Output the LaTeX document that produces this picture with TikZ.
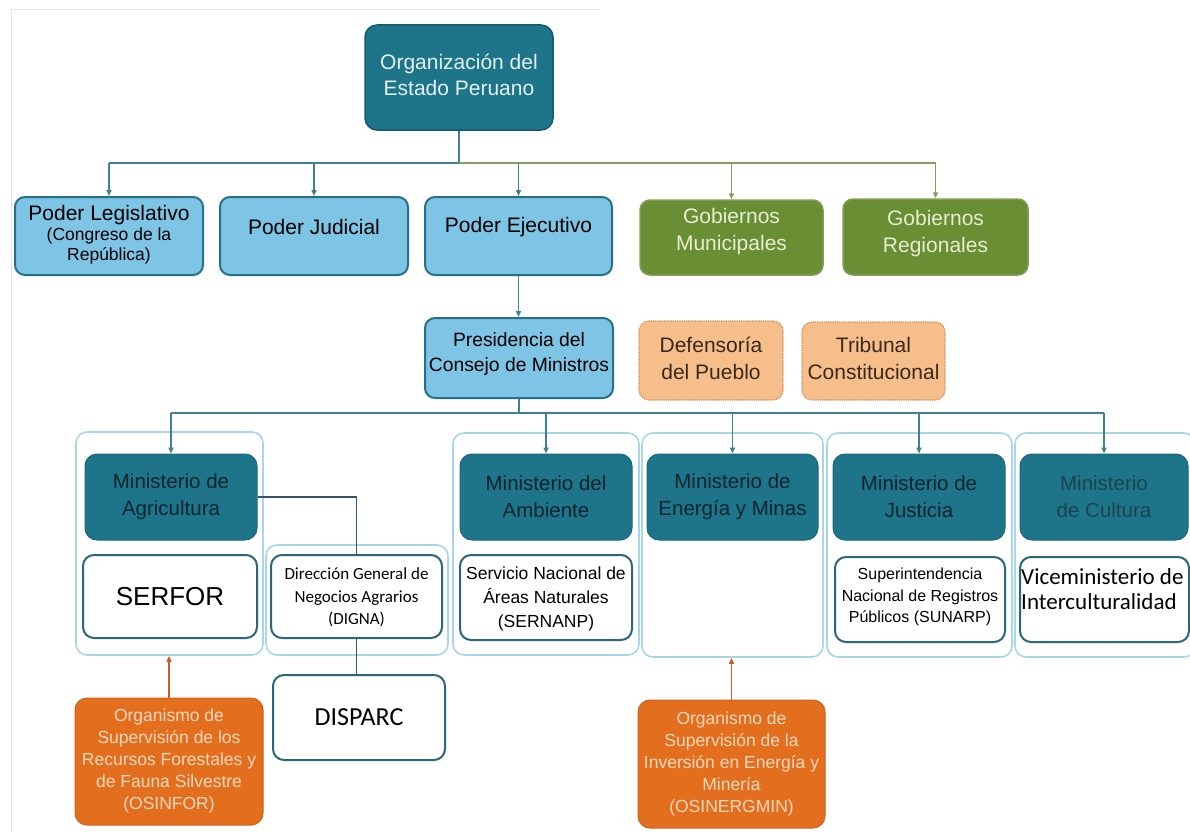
\documentclass[tikz,border=0pt]{standalone}
\usepackage{fontspec}
\setmainfont{Liberation Sans}
\newfontfamily\calfont{Carlito}
\usetikzlibrary{arrows.meta}
\newcommand\myfs[2]{\fontsize{#1}{#2}\selectfont}
\definecolor{tealdark}{HTML}{1E7489}
\definecolor{tealborder}{HTML}{17596A}
\definecolor{toptext}{HTML}{E3F1F2}
\definecolor{lblue}{HTML}{7EC4E4}
\definecolor{lblueb}{HTML}{27708B}
\definecolor{olive}{HTML}{6A8E34}
\definecolor{olivetext}{HTML}{E6EED2}
\definecolor{peach}{HTML}{F5BE8A}
\definecolor{peachb}{HTML}{CC8E55}
\definecolor{peachtext}{HTML}{3A291B}
\definecolor{orangebox}{HTML}{E36E1E}
\definecolor{orangetext}{HTML}{F8D9BE}
\definecolor{contline}{HTML}{A9D5E8}
\definecolor{subborder}{HTML}{2B6777}
\definecolor{mintext}{HTML}{0B2530}
\definecolor{culttext}{HTML}{1A4550}
\definecolor{conteal}{HTML}{3F8190}
\definecolor{congreen}{HTML}{8C9A62}
\definecolor{conorange}{HTML}{C8602A}
\definecolor{condark}{HTML}{34536A}
\definecolor{framegray}{HTML}{E4E4E4}
\begin{document}
\begin{tikzpicture}[x=1pt,y=-1pt,
  sz/.style 2 args={minimum width=#1pt,minimum height=#2pt,inner sep=0pt},
  topbox/.style={draw=tealborder,line width=1.5pt,fill=tealdark,rounded corners=12pt},
  pbox/.style={draw=lblueb,line width=2pt,fill=lblue,rounded corners=10pt},
  gbox/.style={draw=olive!85!white,line width=1.5pt,fill=olive,rounded corners=10pt},
  dbox/.style={draw=peachb,line width=1.2pt,densely dotted,fill=peach,rounded corners=10pt},
  minbox/.style={draw=tealdark!90!black,line width=1pt,fill=tealdark,rounded corners=12pt},
  contbox/.style={draw=contline,line width=1.6pt,fill=white,rounded corners=11pt},
  subbox/.style={draw=subborder,line width=2pt,fill=white,rounded corners=11pt},
  obox/.style={draw=orangebox!90!black,line width=1pt,fill=orangebox,rounded corners=12pt},
  txt/.style={inner sep=0pt,align=center},
  arr/.style={-{Triangle[length=6pt,width=5pt]}},
  cteal/.style={draw=conteal,line width=1.6pt},
  cgreen/.style={draw=congreen,line width=1.6pt},
  corange/.style={draw=conorange,line width=1.8pt},
  cdark/.style={draw=condark,line width=1.3pt}
]
\useasboundingbox (0,0) rectangle (1190,832);
% faint frame of the screenshot
\draw[framegray,line width=1pt] (11,832) -- (11,10) -- (600,10);

% --- top level ---
\node[topbox,sz={188}{105}] (top) at (459,77.5) {};
\node[txt,text=toptext,font=\myfs{21}{26}] (ttop) at (459,74.5) {Organización del\\Estado Peruano};

\node[pbox,sz={188}{78}] (leg) at (109,236) {};
\node[txt,text=black,font=\myfs{17.5}{20}] (tleg) at (109,235) {{\myfs{21}{24}Poder Legislativo}\\(Congreso de la\\República)};
\node[pbox,sz={188}{78}] (jud) at (314,236) {};
\node[txt,text=black,font=\myfs{21}{26}] (tjud) at (314,227) {Poder Judicial};
\node[pbox,sz={187}{78}] (eje) at (518.5,236) {};
\node[txt,text=black,font=\myfs{21}{26}] (teje) at (518.5,227) {Poder Ejecutivo};
\node[gbox,sz={183}{75}] (mun) at (731.5,237.5) {};
\node[txt,text=olivetext,font=\myfs{21}{27}] (tmun) at (731.5,231.5) {Gobiernos\\Municipales};
\node[gbox,sz={185}{76}] (reg) at (935.5,237) {};
\node[txt,text=olivetext,font=\myfs{21}{27}] (treg) at (935.5,233.5) {Gobiernos\\Regionales};

\coordinate (b1) at (459,163);
\draw[cteal] (top.south) -- (b1);
\draw[cgreen] (b1) -- (b1 -| reg.north);
\draw[cteal] (b1) -- (b1 -| leg.north);
\draw[cteal,arr] (b1 -| leg.north) -- (leg.north);
\draw[cteal,arr] (b1 -| jud.north) -- (jud.north);
\draw[cteal,arr] (b1 -| eje.north) -- (eje.north);
\draw[cgreen,arr] (b1 -| mun.north) -- (mun.north);
\draw[cgreen,arr] (b1 -| reg.north) -- (reg.north);

% --- second level ---
\node[pbox,sz={188}{80}] (pcm) at (519,358) {};
\node[txt,text=black,font=\myfs{19.3}{25}] (tpcm) at (519,354.5) {Presidencia del\\Consejo de Ministros};
\node[dbox,sz={144}{79}] (def) at (711,360.5) {};
\node[txt,text=peachtext,font=\myfs{21}{27}] (tdef) at (711,358.5) {Defensoría\\del Pueblo};
\node[dbox,sz={143}{78}] (tri) at (873.5,361) {};
\node[txt,text=peachtext,font=\myfs{21}{27}] (ttri) at (873.5,358.5) {Tribunal\\Constitucional};
\draw[cteal,arr] (eje.south) -- (eje.south |- pcm.north);

% --- containers ---
\node[contbox,sz={187}{223}] (cagr) at (169.5,543.5) {};
\node[contbox,sz={182}{110}] (cdig) at (357,600) {};
\node[contbox,sz={186}{222}] (camb) at (546,544) {};
\node[contbox,sz={181}{224}] (cene) at (732.5,545) {};
\node[contbox,sz={185}{224}] (cjus) at (919.5,545) {};
\node[contbox,sz={180}{224}] (ccul) at (1105,545) {};

% --- ministries ---
\node[minbox,sz={172}{86}] (agr) at (171,497) {};
\node[txt,text=mintext,font=\myfs{20.5}{27}] (tagr) at (171,496.5) {Ministerio de\\Agricultura};
\node[minbox,sz={172}{86}] (amb) at (546,497) {};
\node[txt,text=mintext,font=\myfs{20.5}{27}] (tamb) at (546,497) {Ministerio del\\Ambiente};
\node[minbox,sz={171}{86}] (ene) at (732.5,497) {};
\node[txt,text=mintext,font=\myfs{20.5}{27}] (tene) at (732.5,497) {Ministerio de\\Energía y Minas};
\node[minbox,sz={172}{86}] (jus) at (919,497) {};
\node[txt,text=mintext,font=\myfs{20.5}{27}] (tjus) at (919,497) {Ministerio de\\Justicia};
\node[minbox,sz={168}{86}] (cul) at (1104,497) {};
\node[txt,text=culttext,font=\myfs{20.5}{27}] (tcul) at (1104,497) {Ministerio\\de Cultura};

\coordinate (b2) at (519,413);
\draw[cteal] (pcm.south) -- (b2);
\draw[cteal] (b2 -| agr.north) -- (b2 -| cul.north);
\draw[cteal,arr] (b2 -| agr.north) -- (agr.north);
\draw[cteal,arr] (b2 -| amb.north) -- (amb.north);
\draw[cteal,arr] (b2 -| ene.north) -- (ene.north);
\draw[cteal,arr] (b2 -| jus.north) -- (jus.north);
\draw[cteal,arr] (b2 -| cul.north) -- (cul.north);

% --- sub boxes ---
\node[subbox,sz={174}{83}] (serfor) at (170,596.5) {};
\node[txt,font=\myfs{26}{30}] (tserfor) at (170,596.5) {SERFOR};
\node[subbox,sz={171}{83}] (digna) at (356.5,596.5) {};
\node[txt,font={\calfont\myfs{17}{22.5}}] (tdigna) at (356.5,597.5) {Dirección General de\\Negocios Agrarios\\(DIGNA)};
\node[subbox,sz={172}{85}] (disparc) at (359,717.5) {};
\node[txt,font={\calfont\myfs{26}{30}}] (tdisparc) at (359,717.5) {DISPARC};
\node[subbox,sz={172}{85}] (sernanp) at (546,597.5) {};
\node[txt,font=\myfs{17.5}{24}] (tsernanp) at (546,599) {Servicio Nacional de\\Áreas Naturales\\(SERNANP)};
\node[subbox,sz={170}{85}] (sunarp) at (920,599.5) {};
\node[txt,font=\myfs{16}{21.5}] (tsunarp) at (920,597) {Superintendencia\\Nacional de Registros\\Públicos (SUNARP)};
\node[subbox,sz={169}{85}] (vice) at (1104.5,599.5) {};
\node[inner sep=0pt,align=left,anchor=west,font={\calfont\myfs{23}{25}}] (tvice) at (1021,589.5) {Viceministerio de\\Interculturalidad};

\draw[cdark] (agr.east) -| (digna.north);
\draw[cdark] (digna.south) -- (digna.south |- disparc.north);

% --- orange bodies ---
\node[obox,sz={188}{127}] (osinfor) at (169,761.5) {};
\node[txt,text=orangetext,font=\myfs{17.5}{22}] (tosinfor) at (169,761) {Organismo de\\Supervisión de los\\Recursos Forestales y\\de Fauna Silvestre\\(OSINFOR)};
\node[obox,sz={187}{128}] (osin) at (731.5,764) {};
\node[txt,text=orangetext,font=\myfs{17.5}{22}] (tosin) at (731.5,763.5) {Organismo de\\Supervisión de la\\Inversión en Energía y\\Minería\\(OSINERGMIN)};

\draw[corange,arr] (osinfor.north) -- (osinfor.north |- cagr.south);
\draw[corange,arr] (osin.north) -- (osin.north |- cene.south);
\end{tikzpicture}
\end{document}
